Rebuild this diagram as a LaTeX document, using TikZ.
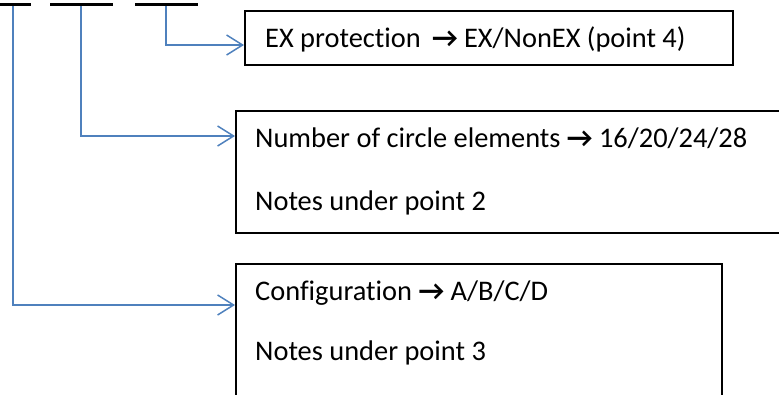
\documentclass[tikz,border=0pt]{standalone}
\usepackage{fontspec}
\setmainfont{Carlito}[Ligatures={NoCommon}]
\usetikzlibrary{arrows.meta}
\definecolor{lineblue}{HTML}{4F81BD}
\newcommand{\arr}{\textbf{→}}
\tikzset{
  dashbar/.style={fill=black, draw=none, inner sep=0pt, minimum height=3bp},
  box/.style={draw=black, line width=1.5bp, inner sep=0pt, anchor=north west},
  txt/.style={inner sep=0pt, anchor=base west, font=\fontsize{28.4bp}{32bp}\selectfont},
  conn/.style={draw=lineblue, line width=1.5bp, -{Straight Barb[length=16bp,width=20bp,line width=1.5bp]}}
}
\begin{document}
\begin{tikzpicture}[x=1bp,y=-1bp]
\useasboundingbox (0,0) rectangle (779,394);
\clip (0,0) rectangle (779,394);
% top bars
\node[dashbar, minimum width=36bp] (d1) at (13,4.5) {};
\node[dashbar, minimum width=63bp] (d2) at (81,4.5) {};
\node[dashbar, minimum width=63bp] (d3) at (166,4.5) {};
% boxes
\node[box, minimum width=488bp, minimum height=54bp] (b1) at (244,10) {};
\node[box, minimum width=560bp, minimum height=122bp] (b2) at (235,110) {};
\node[box, minimum width=486bp, minimum height=160bp] (b3) at (235,263) {};
% texts
\node[txt] (t1) at (265,47) {EX protection \,\arr{} EX/NonEX (point 4)};
\node[txt] (t2) at (255,147) {Number of circle elements \arr{} 16/20/24/28};
\node[txt] (t3) at (255,210) {Notes under point 2};
\node[txt] (t4) at (255,300) {Configuration \arr{} A/B/C/D};
\node[txt] (t5) at (255,360) {Notes under point 3};
% arrow targets
\coordinate (a1) at (244,45);
\coordinate (a2) at (235,136);
\coordinate (a3) at (235,305);
% connectors
\draw[conn] (d3.south) |- (a1);
\draw[conn] (d2.south) |- (a2);
\draw[conn] (d1.south) |- (a3);
\end{tikzpicture}
\end{document}
